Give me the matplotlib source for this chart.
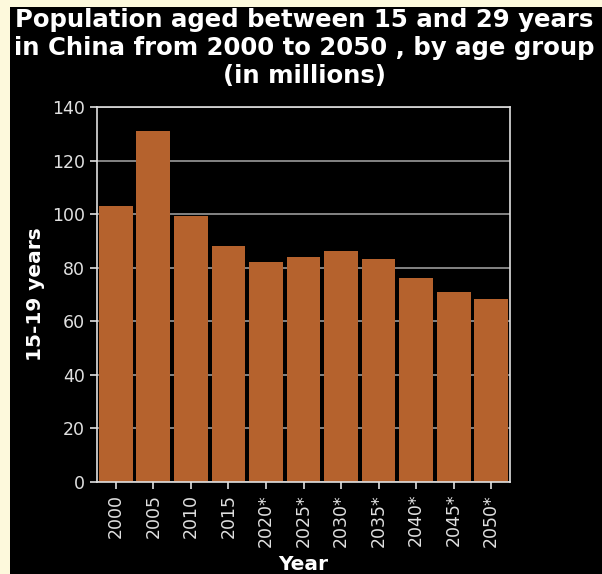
import matplotlib
matplotlib.use("Agg")
import matplotlib.pyplot as plt
from matplotlib.patches import Rectangle

# data
years = ["2000", "2005", "2010", "2015", "2020*", "2025*", "2030*",
         "2035*", "2040*", "2045*", "2050*"]
pop_15_19 = [103, 131, 99.3, 88, 82.3, 84, 86.4, 83.4, 76, 70.8, 68.3]
y_ticks = [0, 20, 40, 60, 80, 100, 120, 140]

BAR = "#b5622d"
FG = "#e0e0e0"
GRID = "#9a9a9a"

fig = plt.figure(figsize=(6.02, 5.74), dpi=100, facecolor="#fdf9dc")
# black panel, cropped like the reference (yellow strip top/left)
fig.patches.append(Rectangle((10 / 602, 0), 1, 1 - 7 / 574,
                             transform=fig.transFigure, facecolor="black",
                             edgecolor="none", zorder=-1))

ax = fig.add_axes([97 / 602, 1 - 482 / 574, 413 / 602, 375 / 574])
ax.set_facecolor("black")

x = range(len(years))
ax.bar(x, pop_15_19, width=0.9, color=BAR, zorder=2)

ax.set_xlim(-0.5, len(years) - 0.5)
ax.set_ylim(0, 140)
ax.set_yticks(y_ticks)
ax.set_xticks(list(x))
ax.set_xticklabels(years, rotation=90)
ax.grid(axis="y", color=GRID, linewidth=1.2, zorder=1)
ax.set_axisbelow(True)

for side in ["left", "right", "top", "bottom"]:
    ax.spines[side].set_color(FG)
    ax.spines[side].set_linewidth(1.2)
ax.tick_params(colors=FG, labelsize=12.5, length=5, width=1.2)

ax.set_ylabel("15-19 years", color="white", fontsize=14.5, fontweight="bold",
              labelpad=5)
ax.set_xlabel("Year", color="white", fontsize=14.5, fontweight="bold",
              labelpad=6)

fig.text(0.505, 1 - 8 / 574,
         "Population aged between 15 and 29 years\n"
         "in China from 2000 to 2050 , by age group\n"
         "(in millions)",
         ha="center", va="top", color="white", fontsize=17.6,
         fontweight="bold", linespacing=1.2)

fig.savefig("out.png", dpi=100, facecolor=fig.get_facecolor())
